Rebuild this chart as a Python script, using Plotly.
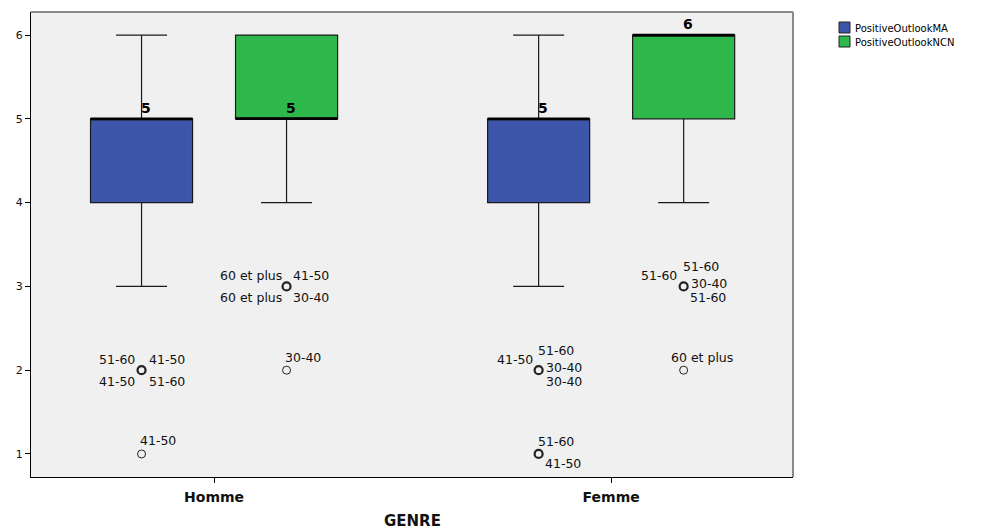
import plotly.graph_objects as go

# ---------------- data ----------------
groups = ["Homme", "Femme"]
series = ["PositiveOutlookMA", "PositiveOutlookNCN"]

ma_q1 = [4, 4]
ma_median = [5, 5]
ma_q3 = [5, 5]
ma_lower = [3, 3]
ma_upper = [6, 6]

ncn_q1 = [5, 5]
ncn_median = [5, 6]
ncn_q3 = [6, 6]
ncn_lower = [4, 4]
ncn_upper = [6, 6]

# outliers: group index, series index, value, labels
out_group = [0, 0, 0, 0, 1, 1, 1, 1]
out_series = [0, 0, 1, 1, 0, 0, 1, 1]
out_value = [2, 1, 3, 2, 2, 1, 3, 2]
out_multi = [True, False, True, False, True, True, True, False]
out_labels = [
    ["51-60", "41-50", "41-50", "51-60"],
    ["41-50"],
    ["60 et plus", "41-50", "60 et plus", "30-40"],
    ["30-40"],
    ["41-50", "51-60", "30-40", "30-40"],
    ["51-60", "41-50"],
    ["51-60", "51-60", "30-40", "51-60"],
    ["60 et plus"],
]

# ---------------- layout / styling ----------------
colors = ["#3D56A9", "#2EB84B"]
offsets = [-0.1826, 0.1826]
box_w = 0.257
FONT = "DejaVu Sans, Verdana, sans-serif"
W, H = 965, 523
ML, MR, MT, MB = 23, 180, 4, 54
PW, PH = W - ML - MR, H - MT - MB

# label placement (xshift px, yshift px, xanchor) per outlier label
label_pos = [
    [(-5, 11, "right"), (5, 11, "left"), (-5, -11, "right"), (5, -11, "left")],
    [(-4, 13, "left")],
    [(-3, 11, "right"), (4, 11, "left"), (-3, -11, "right"), (4, -11, "left")],
    [(-4, 13, "left")],
    [(-4, 11, "right"), (-3, 20, "left"), (5, 3, "left"), (5, -11, "left")],
    [(-3, 12, "left"), (4, -10, "left")],
    [(-5, 11, "right"), (-3, 20, "left"), (5, 3, "left"), (4, -11, "left")],
    [(-15, 13, "left")],
]


def px_x(p):
    return (p - ML) / PW


def px_y(p):
    return (MT + PH - p) / PH


fig = go.Figure()

stats = [
    (ma_q1, ma_median, ma_q3, ma_lower, ma_upper),
    (ncn_q1, ncn_median, ncn_q3, ncn_lower, ncn_upper),
]

for s, (q1, med, q3, lo, hi) in enumerate(stats):
    xs = [g + offsets[s] for g in range(len(groups))]
    fig.add_trace(go.Box(
        x=xs, q1=q1, median=med, q3=q3, lowerfence=lo, upperfence=hi,
        width=box_w, whiskerwidth=0.5, boxpoints=False,
        fillcolor=colors[s], line=dict(color="#1a1a1a", width=1.2),
        name=series[s], hoverinfo="skip", showlegend=False,
    ))

# thick median lines
for s, (q1, med, q3, lo, hi) in enumerate(stats):
    mx, my = [], []
    for g in range(len(groups)):
        c = g + offsets[s]
        mx += [c - box_w / 2, c + box_w / 2, None]
        my += [med[g], med[g], None]
    fig.add_trace(go.Scatter(x=mx, y=my, mode="lines",
                             line=dict(color="#000000", width=2.6),
                             showlegend=False, hoverinfo="skip"))

# outliers
for multi in (False, True):
    ox = [out_group[i] + offsets[out_series[i]] for i in range(len(out_value)) if out_multi[i] == multi]
    oy = [out_value[i] for i in range(len(out_value)) if out_multi[i] == multi]
    fig.add_trace(go.Scatter(
        x=ox, y=oy, mode="markers",
        marker=dict(symbol="circle-open", size=8, color="#222222",
                    line=dict(width=2.2 if multi else 1)),
        showlegend=False, hoverinfo="skip"))

annotations = []
for i in range(len(out_value)):
    cx = out_group[i] + offsets[out_series[i]]
    for lab, (dx, dy, anc) in zip(out_labels[i], label_pos[i]):
        annotations.append(dict(
            x=cx, y=out_value[i], text=lab, showarrow=False,
            xshift=dx, yshift=dy, xanchor=anc, yanchor="middle",
            font=dict(family=FONT, size=12.5, color="#111111")))

# median value labels
for s, (q1, med, q3, lo, hi) in enumerate(stats):
    for g in range(len(groups)):
        annotations.append(dict(
            x=g + offsets[s], y=med[g], text="<b>%d</b>" % med[g], showarrow=False,
            xshift=4, yshift=11, xanchor="center", yanchor="middle",
            font=dict(family=FONT, size=14, color="#000000")))

# axis title
annotations.append(dict(
    x=0.5, y=px_y(513), xref="paper", yref="paper", text="<b>GENRE</b>",
    showarrow=False, xanchor="center", yanchor="middle",
    font=dict(family=FONT, size=15, color="#111")))

# frame (top/right grey) and custom legend
shapes = [
    dict(type="line", xref="paper", yref="paper", x0=0, x1=1, y0=1, y1=1,
         line=dict(color="#8a8a8a", width=2)),
    dict(type="line", xref="paper", yref="paper", x0=1, x1=1, y0=0, y1=1,
         line=dict(color="#8a8a8a", width=2)),
]
leg_rows = [20, 34]
for s in range(len(series)):
    cy = leg_rows[s]
    shapes.append(dict(type="rect", xref="paper", yref="paper",
                       x0=px_x(831), x1=px_x(842), y0=px_y(cy - 6), y1=px_y(cy + 5),
                       fillcolor=colors[s], line=dict(color="#222", width=1)))
    annotations.append(dict(
        x=px_x(845), y=px_y(cy), xref="paper", yref="paper", text=series[s],
        showarrow=False, xanchor="left", yanchor="middle",
        font=dict(family=FONT, size=10, color="#000")))

fig.update_layout(
    width=W, height=H,
    margin=dict(l=ML, r=MR, t=MT, b=MB),
    paper_bgcolor="white", plot_bgcolor="#F0F0F0",
    showlegend=False,
    annotations=annotations,
    shapes=shapes,
    xaxis=dict(range=[-0.461, 1.458], tickvals=[0, 1],
               ticktext=["<b>%s</b>" % g for g in groups],
               ticks="outside", ticklen=5, tickcolor="#000",
               ticklabelstandoff=2,
               showline=True, linecolor="#000", linewidth=1,
               showgrid=False, zeroline=False,
               tickfont=dict(family=FONT, size=14, color="#111")),
    yaxis=dict(range=[0.725, 6.275], tickvals=[1, 2, 3, 4, 5, 6],
               ticks="outside", ticklen=5, tickcolor="#000",
               showline=True, linecolor="#000", linewidth=1,
               showgrid=False, zeroline=False,
               tickfont=dict(family=FONT, size=11, color="#111")),
)

fig.write_html("out.html")
